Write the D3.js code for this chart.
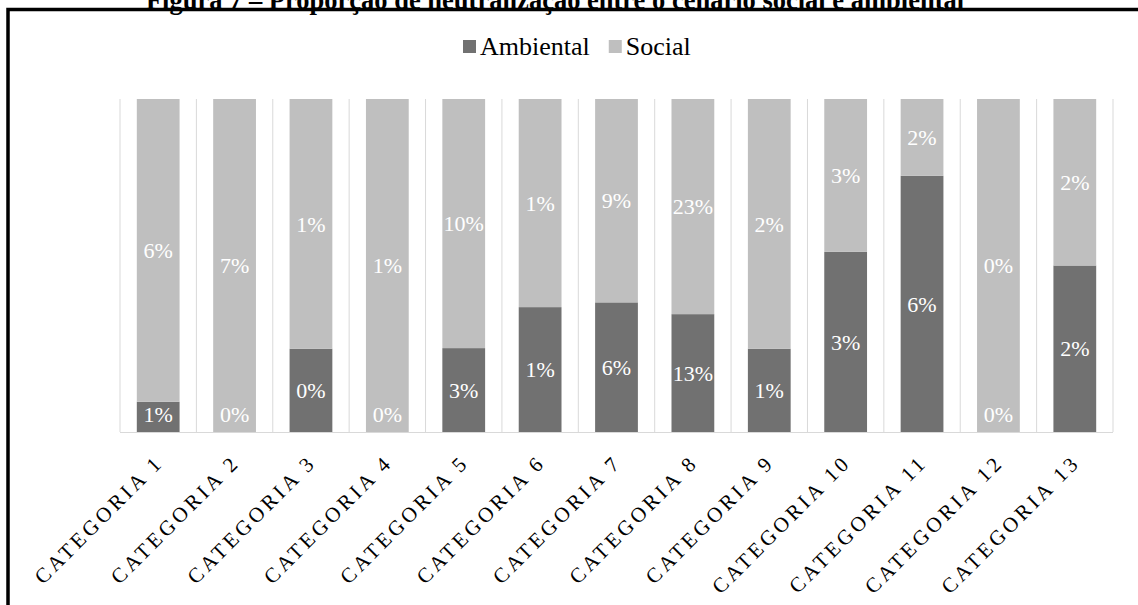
<!DOCTYPE html>
<html>
<head>
<meta charset="utf-8">
<script src="https://cdn.jsdelivr.net/npm/d3@7"></script>
<style>
  html, body { margin: 0; padding: 0; background: #fff; }
  svg { display: block; }
</style>
</head>
<body>
<svg id="chart" width="1138" height="605"></svg>
<script>
// Category names along the x axis
const categories = [
  "CATEGORIA 1", "CATEGORIA 2", "CATEGORIA 3", "CATEGORIA 4", "CATEGORIA 5",
  "CATEGORIA 6", "CATEGORIA 7", "CATEGORIA 8", "CATEGORIA 9", "CATEGORIA 10",
  "CATEGORIA 11", "CATEGORIA 12", "CATEGORIA 13"
];
// Neutralization share (%) per category, by scenario
const ambiental = [0.6, 0.0, 0.4, 0.0, 3.3, 0.6, 5.8, 12.6, 0.6, 3.3, 6.0, 0.0, 2.0];
const social    = [6.0, 7.0, 1.2, 1.0, 9.8, 1.0, 9.1, 23.0, 1.8, 2.8, 1.8, 0.3, 2.0];
const seriesNames = ["Ambiental", "Social"];
const seriesColors = ["#717171", "#bfbfbf"];
const titleText = "Figura 7 – Proporção de neutralização entre o cenário social e ambiental";

const svg = d3.select("#chart");
const serif = "'Liberation Serif', 'Times New Roman', Times, serif";

const plot = { left: 120, right: 1113, top: 99, bottom: 432 };

// Title (sits just above the frame line)
svg.append("text")
  .attr("x", 555).attr("y", 8.5)
  .attr("text-anchor", "middle")
  .attr("font-family", serif)
  .attr("font-weight", "bold")
  .attr("font-size", 26.5)
  .attr("fill", "#000")
  .text(titleText);

// Frame around the chart
svg.append("path")
  .attr("d", `M8,620 L8,9.5 L1150,9.5`)
  .attr("fill", "none")
  .attr("stroke", "#000")
  .attr("stroke-width", 3.5);

// Table rows for the stack
const rows = categories.map((c, i) => ({ cat: c, Ambiental: ambiental[i], Social: social[i] }));
const stacked = d3.stack()
  .keys(seriesNames)
  .offset(d3.stackOffsetExpand)(rows);

const x = d3.scaleBand()
  .domain(categories)
  .range([plot.left, plot.right])
  .paddingInner(0.44)
  .paddingOuter(0.22);

const y = d3.scaleLinear()
  .domain([0, 1])
  .range([plot.bottom, plot.top]);

// Vertical separators between categories
const step = x.step();
const bounds = d3.range(categories.length + 1).map(i => plot.left + i * step);
svg.append("g")
  .selectAll("line")
  .data(bounds)
  .join("line")
  .attr("x1", d => d).attr("x2", d => d)
  .attr("y1", plot.top).attr("y2", plot.bottom)
  .attr("stroke", "#d9d9d9")
  .attr("stroke-width", 1);

// Stacked bars
const layers = svg.append("g")
  .selectAll("g")
  .data(stacked)
  .join("g")
  .attr("fill", (d, i) => seriesColors[i]);

layers.selectAll("rect")
  .data(d => d)
  .join("rect")
  .attr("x", d => x(d.data.cat))
  .attr("width", x.bandwidth())
  .attr("y", d => y(d[1]))
  .attr("height", d => y(d[0]) - y(d[1]));

// Category axis: labels slanted at 45°, spaced out letters
const xAxis = svg.append("g")
  .attr("transform", `translate(0,${plot.bottom})`)
  .call(d3.axisBottom(x).tickSize(0).tickPadding(0));
xAxis.select(".domain").attr("stroke", "#d9d9d9").attr("d", `M${plot.left},0.5H${plot.right}`);
xAxis.selectAll(".tick text")
  .attr("font-family", serif)
  .attr("font-size", 21)
  .attr("fill", "#000")
  .attr("text-anchor", "end")
  .attr("dy", null)
  .attr("y", null)
  .attr("transform", "translate(4,34) rotate(-45)")
  .each(function () {
    const t = d3.select(this);
    const n = t.text().length;
    const w = this.getComputedTextLength();
    t.attr("textLength", w + (n - 1) * 3.5).attr("lengthAdjust", "spacing");
  });

// Value labels in the middle of each segment
const fmt = v => d3.format(".0f")(v) + "%";
const labels = svg.append("g");
stacked.forEach((layer, si) => {
  const vals = si === 0 ? ambiental : social;
  labels.selectAll(null)
    .data(layer)
    .join("text")
    .attr("x", d => x(d.data.cat) + x.bandwidth() / 2)
    .attr("y", d => Math.min((y(d[0]) + y(d[1])) / 2, plot.bottom - 18))
    .attr("dy", "0.35em")
    .attr("text-anchor", "middle")
    .attr("font-family", serif)
    .attr("font-size", 22)
    .attr("fill", "#fff")
    .text((d, i) => fmt(vals[i]));
});

// Legend
const legend = svg.append("g").attr("transform", "translate(463,0)");
let lx = 0;
seriesNames.forEach((name, i) => {
  legend.append("rect")
    .attr("x", lx).attr("y", 40)
    .attr("width", 13).attr("height", 13)
    .attr("fill", seriesColors[i]);
  const t = legend.append("text")
    .attr("x", lx + 17).attr("y", 55)
    .attr("font-family", serif)
    .attr("font-size", 26)
    .attr("fill", "#000")
    .text(name);
  lx += 17 + t.node().getComputedTextLength() + 19;
});
</script>
</body>
</html>
